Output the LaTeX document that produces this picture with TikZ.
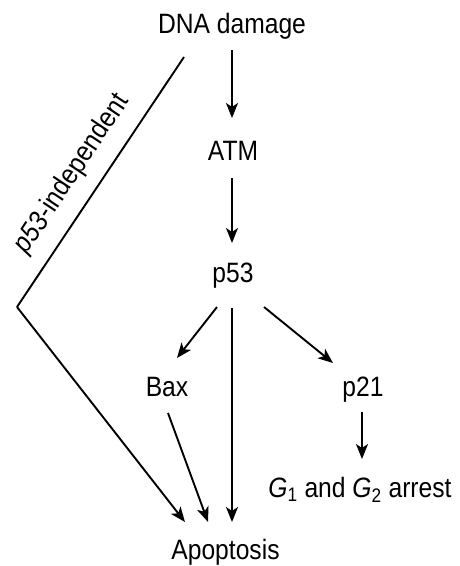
\documentclass[tikz,border=0pt]{standalone}
\usepackage{fontspec}
\setmainfont{Liberation Sans}[FakeStretch=0.88]
\usetikzlibrary{arrows.meta}
\begin{document}
\begin{tikzpicture}[x=1pt,y=-1pt,
  lbl/.style={inner sep=0pt,anchor=base,font=\fontsize{28}{32}\selectfont},
  arr/.style={line width=1.9pt,-{Stealth[length=15pt,width=12pt,inset=4pt]}},
  ln/.style={line width=1.9pt}]
\useasboundingbox (0,0) rectangle (460,566);
\node[lbl] (dna) at (232,33) {DNA damage};
\node[lbl] (atm) at (233,160) {ATM};
\node[lbl] (p53) at (233,282) {p53};
\node[lbl] (bax) at (167,396) {Bax};
\node[lbl] (p21) at (363,396) {p21};
\node[lbl] (arrest) at (360,497) {\textit{G}\textsubscript{1} and \textit{G}\textsubscript{2} arrest};
\node[lbl] (apo) at (225.5,559) {Apoptosis};
\coordinate (pa) at (184,57);
\coordinate (pb) at (17,307);
\draw[arr] ([yshift=-17pt]dna.base) -- ([xshift=-1pt,yshift=42pt]atm.base);
\draw[arr] ([xshift=-1pt,yshift=-18pt]atm.base) -- ([xshift=-1pt,yshift=39pt]p53.base);
\draw[arr] ([xshift=-16pt,yshift=-25pt]p53.base) -- ([xshift=10pt,yshift=38pt]bax.base);
\draw[arr] ([xshift=-1pt,yshift=-26pt]p53.base) -- ([xshift=6.5pt,yshift=37pt]apo.base);
\draw[arr] ([xshift=31pt,yshift=-25pt]p53.base) -- ([xshift=-30pt,yshift=33pt]p21.base);
\draw[arr] ([xshift=-1pt,yshift=-16pt]p21.base) -- ([xshift=2pt,yshift=38pt]arrest.base);
\draw[arr] ([xshift=1pt,yshift=-17pt]bax.base) -- ([xshift=-17.5pt,yshift=37pt]apo.base);
\draw[ln,line join=miter] (pb) -- node[pos=0.47,sloped,above=14pt,inner sep=0pt,font=\fontsize{28}{32}\selectfont] (ind) {\textit{p53}-independent} (pa);
\draw[arr] (pb) -- ([xshift=-40.5pt,yshift=37pt]apo.base);
\end{tikzpicture}
\end{document}
